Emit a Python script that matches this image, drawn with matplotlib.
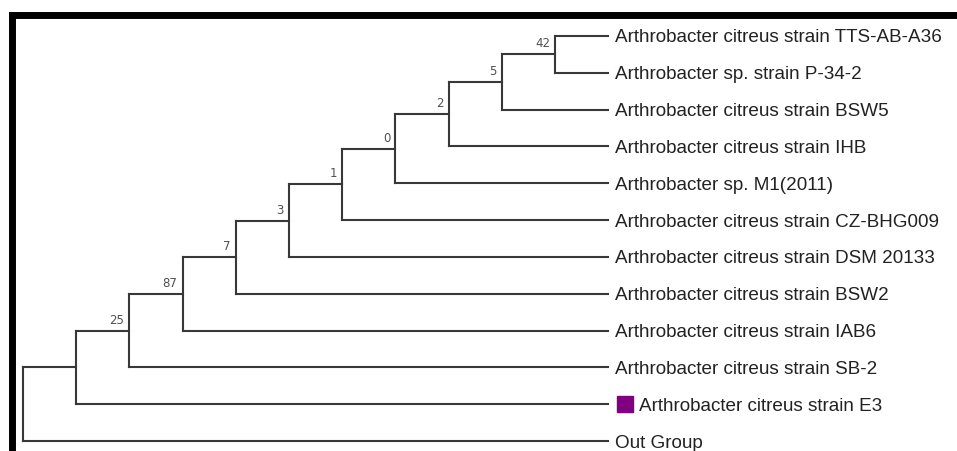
import matplotlib
matplotlib.use("Agg")
import matplotlib.pyplot as plt
from matplotlib.transforms import offset_copy

# ---- data ----
leaf_names = [
    "Arthrobacter citreus strain TTS-AB-A36",
    "Arthrobacter sp. strain P-34-2",
    "Arthrobacter citreus strain BSW5",
    "Arthrobacter citreus strain IHB",
    "Arthrobacter sp. M1(2011)",
    "Arthrobacter citreus strain CZ-BHG009",
    "Arthrobacter citreus strain DSM 20133",
    "Arthrobacter citreus strain BSW2",
    "Arthrobacter citreus strain IAB6",
    "Arthrobacter citreus strain SB-2",
    "Arthrobacter citreus strain E3",
    "Out Group",
]
highlight_leaf = "Arthrobacter citreus strain E3"
# bootstrap values for internal nodes, from root outward (None = no label)
bootstrap = [None, None, 25, 87, 7, 3, 1, 0, 2, 5, 42]

# ---- ladder tree topology: internal node k has children node k+1 and one leaf ----
n_leaves = len(leaf_names)
n_nodes = len(bootstrap)
leaf_depth = n_nodes  # cladogram: all leaves aligned


def children(k):
    if k == n_nodes - 1:
        return [("leaf", 0), ("leaf", 1)]
    return [("node", k + 1), ("leaf", n_leaves - 1 - k)]


ys = {}
def node_y(k):
    if k not in ys:
        vals = [i if t == "leaf" else node_y(i) for t, i in children(k)]
        ys[k] = sum(vals) / len(vals)
    return ys[k]

W, H = 957, 452
fig = plt.figure(figsize=(W / 100, H / 100), dpi=100)
ax = fig.add_axes([11.7 / W, 0, (W - 11.7) / W, (H - 16) / H])

step = 53.2
x0 = 23.0
ypx0 = 37.0
ystep = 36.82
ax.set_xlim((11.7 - x0) / step, (W - x0) / step)
ax.set_ylim((H - ypx0) / ystep, (16 - ypx0) / ystep)

lc = "#383838"
lw = 1.5
for k in range(n_nodes):
    child_pos = []
    for t, i in children(k):
        if t == "leaf":
            child_pos.append((leaf_depth, i))
        else:
            child_pos.append((i, node_y(i)))
    cys = [c[1] for c in child_pos]
    ax.plot([k, k], [min(cys), max(cys)], color=lc, lw=lw, solid_capstyle="projecting")
    for cx, cy in child_pos:
        ax.plot([k, cx], [cy, cy], color=lc, lw=lw, solid_capstyle="projecting")

# bootstrap labels: above the branch, left of node
lab_tr = offset_copy(ax.transData, fig=fig, x=-5, y=5, units="dots")
for k, b in enumerate(bootstrap):
    if b is None:
        continue
    ax.text(k, node_y(k), str(b), transform=lab_tr, ha="right", va="bottom",
            fontsize=8.5, color="#505050", family="DejaVu Sans")

# leaf labels
txt_tr = offset_copy(ax.transData, fig=fig, x=7, y=-1, units="dots")
txt_tr2 = offset_copy(ax.transData, fig=fig, x=31, y=-1, units="dots")
sq_tr = offset_copy(ax.transData, fig=fig, x=17, y=0, units="dots")
fs = 13.6
for i, name in enumerate(leaf_names):
    if name == highlight_leaf:
        ax.plot([leaf_depth], [i], marker="s", markersize=11, color="#800080",
                mec="#800080", transform=sq_tr, clip_on=False)
        ax.text(leaf_depth, i, name, transform=txt_tr2, ha="left", va="center",
                fontsize=fs, color="#222222", family="Liberation Sans")
    else:
        ax.text(leaf_depth, i, name, transform=txt_tr, ha="left", va="center",
                fontsize=fs, color="#222222", family="Liberation Sans")

# frame: thick top and left border only
for s in ["right", "bottom"]:
    ax.spines[s].set_visible(False)
for s in ["top", "left"]:
    ax.spines[s].set_linewidth(5.0)
    ax.spines[s].set_color("black")
ax.set_xticks([])
ax.set_yticks([])

fig.savefig("out.png", dpi=100)
